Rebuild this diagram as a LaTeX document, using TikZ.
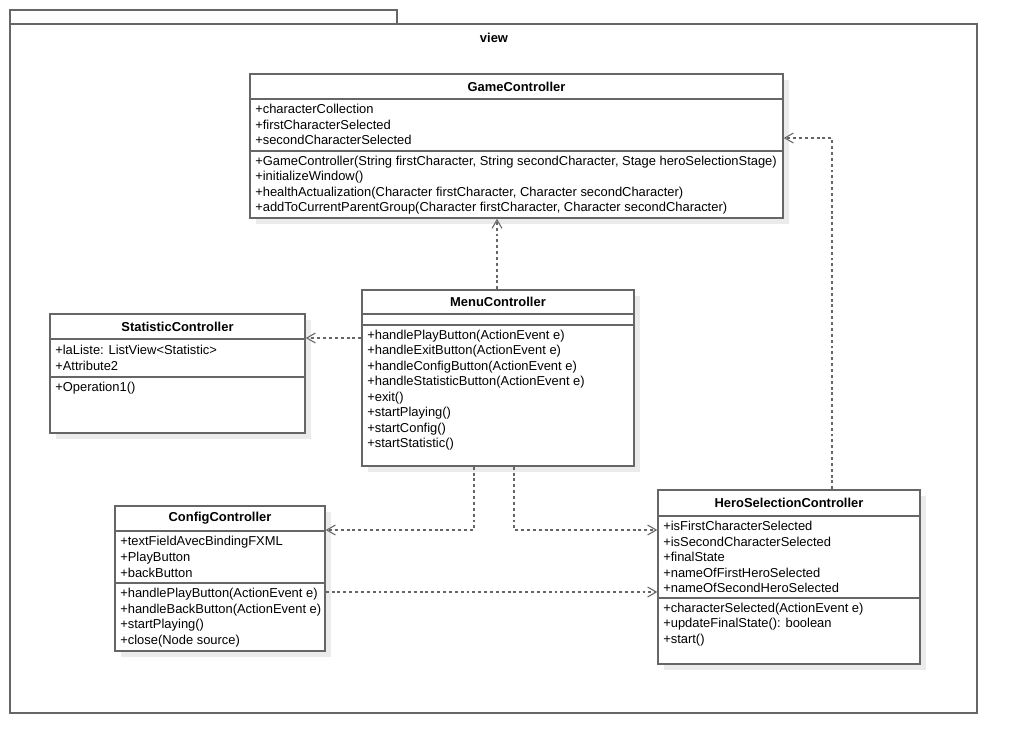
\documentclass[tikz,border=0pt]{standalone}
\usepackage{fontspec}
\setmainfont{Liberation Sans}
\usetikzlibrary{arrows.meta,fit}
\definecolor{bord}{HTML}{666666}
\definecolor{shad}{HTML}{EBEBEB}
\definecolor{conn}{HTML}{666666}
\tikzset{
  txt/.style={anchor=west,inner sep=0pt,yshift=-0.6pt,font=\fontsize{9.7}{10}\selectfont},
  ttl/.style={inner sep=0pt,font=\bfseries\fontsize{9.7}{10}\selectfont},
  boxline/.style={draw=bord,line width=1.1pt},
  dep/.style={draw=conn,line width=0.8pt,dash pattern=on 2.2pt off 2.2pt,-{Straight Barb[length=6.5pt,width=7.5pt,line width=0.8pt]}},
}
\newcommand{\umlcls}[8]{%
  \fill[shad] ({#2+6},{#3+6}) rectangle ({#4+6},{#5+6});
  \node[fit={(#2,#3) (#4,#5)},inner sep=0pt,fill=white,boxline] (#1) {};
  \draw[boxline] (#2,#7) -- (#4,#7);
  \draw[boxline] (#2,#8) -- (#4,#8);
  \node[ttl] (#1-t) at ({(#2+#4)/2},{(#3+#7)/2}) {#6};
}
\begin{document}
\begin{tikzpicture}[x=0.75pt,y=-0.75pt]
\useasboundingbox (0,0) rectangle (1018,753);
\fill[white] (0,0) rectangle (1018,753);
% package
\node[fit={(10,10) (397,24)},inner sep=0pt,boxline] (tab) {};
\node[fit={(10,24) (977,713)},inner sep=0pt,boxline,fill=white] (pkg) {};
\node[ttl] (pkgname) at (494,38) {view};

% GameController
\umlcls{game}{250}{74}{783}{218}{GameController}{99}{151}
\node[txt] at (255,108.5) {+characterCollection};
\node[txt] at (255,124) {+firstCharacterSelected};
\node[txt] at (255,139.5) {+secondCharacterSelected};
\node[txt] at (255,161) {+GameController(String firstCharacter, String secondCharacter, Stage heroSelectionStage)};
\node[txt] at (255,176.5) {+initializeWindow()};
\node[txt] at (255,192) {+healthActualization(Character firstCharacter, Character secondCharacter)};
\node[txt] at (255,207.5) {+addToCurrentParentGroup(Character firstCharacter, Character secondCharacter)};

% MenuController
\umlcls{menu}{362}{290}{634}{466}{MenuController}{314}{325}
\node[txt] at (367,335) {+handlePlayButton(ActionEvent e)};
\node[txt] at (367,350.5) {+handleExitButton(ActionEvent e)};
\node[txt] at (367,366) {+handleConfigButton(ActionEvent e)};
\node[txt] at (367,381.5) {+handleStatisticButton(ActionEvent e)};
\node[txt] at (367,397) {+exit()};
\node[txt] at (367,412.5) {+startPlaying()};
\node[txt] at (367,428) {+startConfig()};
\node[txt] at (367,443.5) {+startStatistic()};

% StatisticController
\umlcls{stat}{50}{314}{305}{433}{StatisticController}{339}{377}
\node[txt] at (55,349.5) {+laListe: ListView<Statistic>};
\node[txt] at (55,365) {+Attribute2};
\node[txt] at (55,387.5) {+Operation1()};

% ConfigController
\umlcls{conf}{115}{506}{325}{651}{ConfigController}{531}{583}
\node[txt] at (120,541.5) {+textFieldAvecBindingFXML};
\node[txt] at (120,557) {+PlayButton};
\node[txt] at (120,572.5) {+backButton};
\node[txt] at (120,593.5) {+handlePlayButton(ActionEvent e)};
\node[txt] at (120,609) {+handleBackButton(ActionEvent e)};
\node[txt] at (120,624.5) {+startPlaying()};
\node[txt] at (120,640) {+close(Node source)};

% HeroSelectionController
\umlcls{hero}{658}{490}{920}{664}{HeroSelectionController}{516}{598}
\node[txt] at (663,525.5) {+isFirstCharacterSelected};
\node[txt] at (663,541) {+isSecondCharacterSelected};
\node[txt] at (663,556.5) {+finalState};
\node[txt] at (663,572) {+nameOfFirstHeroSelected};
\node[txt] at (663,587.5) {+nameOfSecondHeroSelected};
\node[txt] at (663,608) {+characterSelected(ActionEvent e)};
\node[txt] at (663,623.5) {+updateFinalState(): boolean};
\node[txt] at (663,639) {+start()};

% connectors
\draw[dep] (menu.north -| 497,0) -- (game.south -| 497,0);
\draw[dep] (menu.west |- 0,338) -- (stat.east |- 0,338);
\draw[dep] (menu.south -| 474,0) |- (conf.east |- 0,530);
\draw[dep] (menu.south -| 514,0) |- (hero.west |- 0,530);
\draw[dep] (conf.east |- 0,592) -- (hero.west |- 0,592);
\draw[dep] (hero.north -| 832,0) |- (game.east |- 0,138);
\end{tikzpicture}
\end{document}
